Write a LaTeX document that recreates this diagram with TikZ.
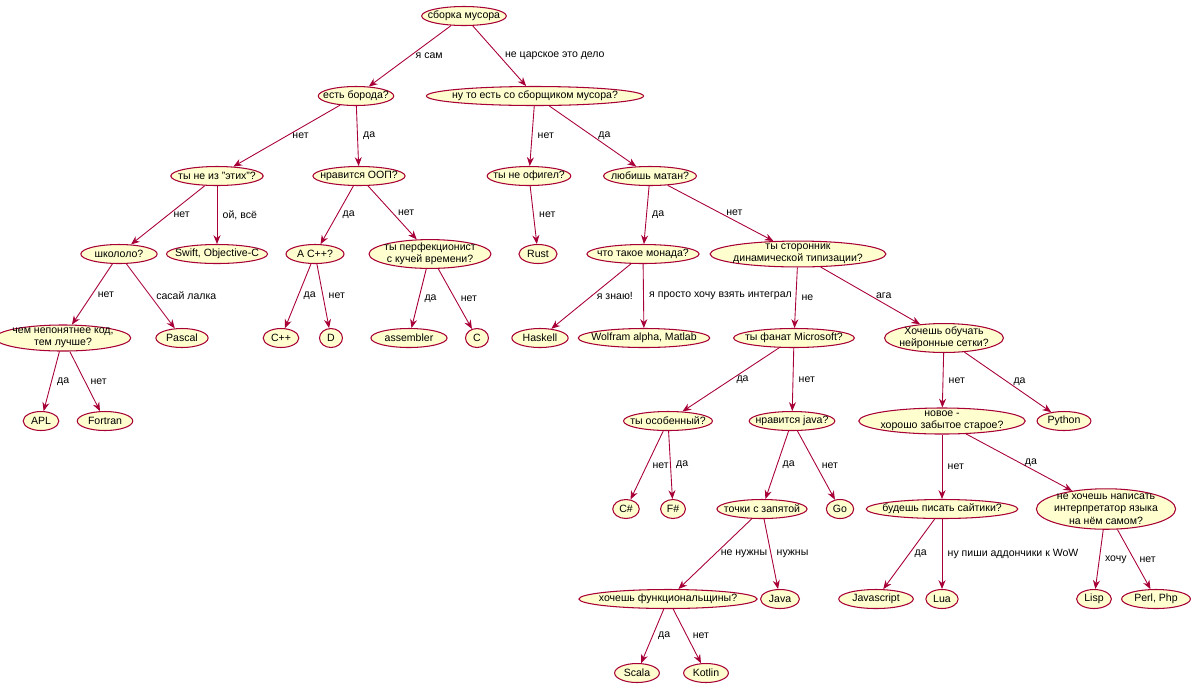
\documentclass[tikz,border=0pt]{standalone}
\usepackage{fontspec}
\setmainfont{Liberation Sans}
\usetikzlibrary{shapes.geometric,arrows.meta}
\definecolor{pfill}{HTML}{FEFECE}
\definecolor{pline}{HTML}{A80036}
\begin{document}
\begin{tikzpicture}[x=0.02cm,y=-0.02cm,
  every node/.style={font=\fontsize{6}{7}\selectfont},
  st/.style={ellipse,draw=pline,fill=pfill,line width=0.6pt,inner xsep=-3.5pt,inner ysep=0.3pt,minimum height=0.38cm,minimum width=0.46cm,align=center},
  sm/.style={st,inner xsep=1.5pt},
  ml/.style={st,inner xsep=-1.5pt,inner ysep=-0.5pt},
  ed/.style={draw=pline,line width=0.5pt,-{Stealth[length=5pt,width=4pt]}},
  lb/.style={midway,right,inner sep=2pt,xshift=1pt}]
\useasboundingbox (0,0) rectangle (1200,691);
\node[st] (r) at (464,16) {сборка мусора};
\node[st] (bor) at (356,96) {есть борода?};
\node[st] (nu) at (535,96) {ну то есть со сборщиком мусора?};
\node[st] (eti) at (217,176) {ты не из "этих"?};
\node[st] (oop) at (359,176) {нравится ООП?};
\node[st] (ofi) at (529,176) {ты не офигел?};
\node[st] (mat) at (650,176) {любишь матан?};
\node[sm] (sh) at (119,254) {школоло?};
\node[st] (sw) at (217,254) {Swift, Objective-C};
\node[sm] (acc) at (315,254) {A C++?};
\node[ml] (per) at (430,254) {ты перфекционист\\с кучей времени?};
\node[sm] (rust) at (538,254) {Rust};
\node[st] (mon) at (643,254) {что такое монада?};
\node[ml] (din) at (798,254) {ты сторонник\\динамической типизации?};
\node[ml] (chem) at (63,338) {чем непонятнее код,\\тем лучше?};
\node[sm] (pas) at (182,338) {Pascal};
\node[sm] (cpp) at (281,338) {C++};
\node[sm] (d) at (331,338) {D};
\node[sm] (asm) at (409,338) {assembler};
\node[sm] (c) at (477,338) {C};
\node[sm] (hs) at (540,338) {Haskell};
\node[st] (wol) at (644,338) {Wolfram alpha, Matlab};
\node[st] (ms) at (794,338) {ты фанат Microsoft?};
\node[ml] (nn) at (944,338) {Хочешь обучать\\нейронные сетки?};
\node[sm] (apl) at (41,421) {APL};
\node[sm] (for) at (105,421) {Fortran};
\node[st] (os) at (668,421) {ты особенный?};
\node[st] (jv) at (792,421) {нравится java?};
\node[ml] (nov) at (942,421) {новое -\\хорошо забытое старое?};
\node[sm] (py) at (1064,421) {Python};
\node[sm] (cs) at (626,509) {C\#};
\node[sm] (fs) at (673,509) {F\#};
\node[st] (tz) at (762,509) {точки с запятой};
\node[sm] (go) at (840,509) {Go};
\node[st] (sai) at (942,509) {будешь писать сайтики?};
\node[ml] (int) at (1106,509) {не хочешь написать\\интерпретатор языка\\на нём самом?};
\node[st] (fun) at (668,599) {хочешь функциональщины?};
\node[sm] (java) at (780,599) {Java};
\node[sm] (js) at (876,599) {Javascript};
\node[sm] (lua) at (942,599) {Lua};
\node[sm] (lisp) at (1094,599) {Lisp};
\node[sm] (perl) at (1156,599) {Perl, Php};
\node[sm] (sca) at (637,673) {Scala};
\node[sm] (kot) at (706,673) {Kotlin};
\draw[ed] (r) -- node[lb]{я сам} (bor);
\draw[ed] (r) -- node[lb]{не царское это дело} (nu);
\draw[ed] (bor) -- node[lb]{нет} (eti);
\draw[ed] (bor) -- node[lb]{да} (oop);
\draw[ed] (nu) -- node[lb]{нет} (ofi);
\draw[ed] (nu) -- node[lb]{да} (mat);
\draw[ed] (eti) -- node[lb]{нет} (sh);
\draw[ed] (eti) -- node[lb]{ой, всё} (sw);
\draw[ed] (oop) -- node[lb]{да} (acc);
\draw[ed] (oop) -- node[lb]{нет} (per);
\draw[ed] (ofi) -- node[lb]{нет} (rust);
\draw[ed] (mat) -- node[lb]{да} (mon);
\draw[ed] (mat) -- node[lb]{нет} (din);
\draw[ed] (sh) -- node[lb]{нет} (chem);
\draw[ed] (sh) -- node[lb]{сасай лалка} (pas);
\draw[ed] (acc) -- node[lb]{да} (cpp);
\draw[ed] (acc) -- node[lb]{нет} (d);
\draw[ed] (per) -- node[lb]{да} (asm);
\draw[ed] (per) -- node[lb]{нет} (c);
\draw[ed] (mon) -- node[lb]{я знаю!} (hs);
\draw[ed] (mon) -- node[lb]{я просто хочу взять интеграл} (wol);
\draw[ed] (din) -- node[lb]{не} (ms);
\draw[ed] (din) -- node[lb]{ага} (nn);
\draw[ed] (chem) -- node[lb]{да} (apl);
\draw[ed] (chem) -- node[lb]{нет} (for);
\draw[ed] (ms) -- node[lb]{да} (os);
\draw[ed] (ms) -- node[lb]{нет} (jv);
\draw[ed] (nn) -- node[lb]{нет} (nov);
\draw[ed] (nn) -- node[lb]{да} (py);
\draw[ed] (os) -- node[lb]{нет} (cs);
\draw[ed] (os) -- node[lb]{да} (fs);
\draw[ed] (jv) -- node[lb]{да} (tz);
\draw[ed] (jv) -- node[lb]{нет} (go);
\draw[ed] (nov) -- node[lb]{нет} (sai);
\draw[ed] (nov) -- node[lb]{да} (int);
\draw[ed] (tz) -- node[lb]{не нужны} (fun);
\draw[ed] (tz) -- node[lb]{нужны} (java);
\draw[ed] (sai) -- node[lb]{да} (js);
\draw[ed] (sai) -- node[lb]{ну пиши аддончики к WoW} (lua);
\draw[ed] (int) -- node[lb]{хочу} (lisp);
\draw[ed] (int) -- node[lb]{нет} (perl);
\draw[ed] (fun) -- node[lb]{да} (sca);
\draw[ed] (fun) -- node[lb]{нет} (kot);
\end{tikzpicture}
\end{document}
